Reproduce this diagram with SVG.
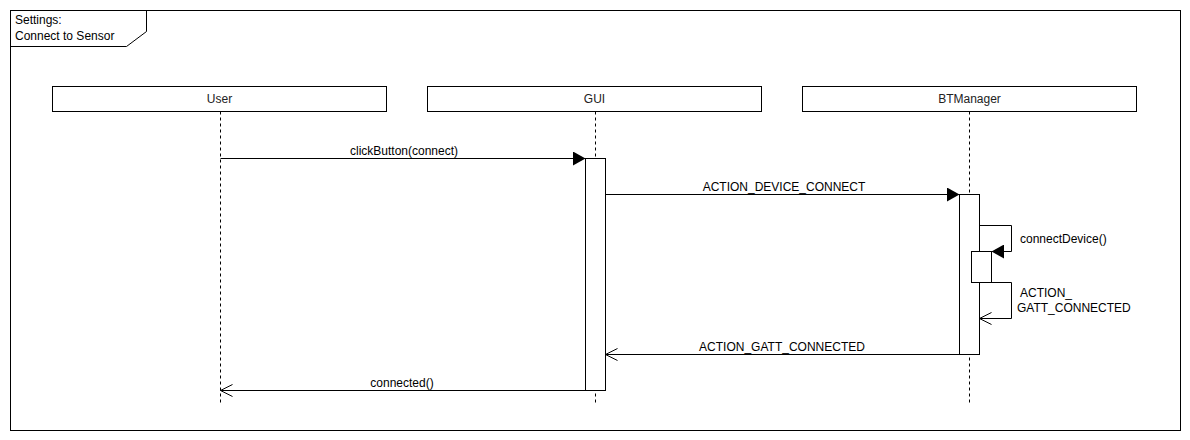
<svg xmlns="http://www.w3.org/2000/svg" width="1190" height="440" viewBox="0 0 1190 440">
<style>
text{font-family:"Liberation Sans",Arial,sans-serif;font-size:12px;fill:#000}
.lbl{fill:#222}
.box{fill:#fff;stroke:#000;stroke-width:1}
.life{stroke:#000;stroke-dasharray:3,3;fill:none}
.msg{stroke:#000;fill:none}
</style>
<defs>
<marker id="filled" viewBox="0 0 13 14" refX="12.5" refY="7" markerWidth="13" markerHeight="14" markerUnits="userSpaceOnUse" orient="auto">
<path d="M0,0 L12.5,7 L0,14 Z" fill="#000"/>
</marker>
<marker id="open" viewBox="0 0 14 14" refX="13" refY="7" markerWidth="14" markerHeight="14" markerUnits="userSpaceOnUse" orient="auto">
<path d="M1,1 L13,7 L1,13" fill="none" stroke="#000"/>
</marker>
</defs>
<rect width="1190" height="440" fill="#fff"/>
<g id="frame">
<rect x="10.5" y="10.5" width="1170" height="420" fill="none" stroke="#000"/>
<path d="M10.5,10.5 H146.5 V31.5 L126.5,46.5 H10.5" fill="none" stroke="#000"/>
<text x="15" y="24">Settings:</text>
<text x="15" y="40">Connect to Sensor</text>
</g>
<g id="user">
<line class="life" x1="220.5" y1="111.5" x2="220.5" y2="405"/>
<rect class="box" x="52.5" y="86.5" width="334" height="25"/>
<text class="lbl" x="219.5" y="103" text-anchor="middle">User</text>
</g>
<g id="gui">
<line class="life" x1="595.5" y1="111.5" x2="595.5" y2="405"/>
<rect class="box" x="427.5" y="86.5" width="334" height="25"/>
<text class="lbl" x="594.5" y="103" text-anchor="middle">GUI</text>
<rect class="box" x="585.5" y="158.5" width="20" height="232"/>
</g>
<g id="btmanager">
<line class="life" x1="969.5" y1="111.5" x2="969.5" y2="405"/>
<rect class="box" x="802.5" y="86.5" width="334" height="25"/>
<text class="lbl" x="969.5" y="103" text-anchor="middle">BTManager</text>
<rect class="box" x="959.5" y="194.5" width="20" height="160"/>
<rect class="box" x="971.5" y="251.5" width="20" height="31"/>
</g>
<g id="connectors">
<line class="msg" x1="220.5" y1="158.5" x2="585.5" y2="158.5" marker-end="url(#filled)"/>
<text x="404" y="155" text-anchor="middle">clickButton(connect)</text>
<line class="msg" x1="605.5" y1="194.5" x2="959.5" y2="194.5" marker-end="url(#filled)"/>
<text x="784" y="191" text-anchor="middle">ACTION_DEVICE_CONNECT</text>
<path class="msg" d="M979.5,225.5 H1011.5 V251.5 H991.5" marker-end="url(#filled)"/>
<text x="1020" y="243">connectDevice()</text>
<path class="msg" d="M991.5,282.5 H1011.5 V318.5 H979.5" marker-end="url(#open)"/>
<text x="1020" y="297">ACTION_</text>
<text x="1017" y="312">GATT_CONNECTED</text>
<line class="msg" x1="959.5" y1="354.5" x2="605.5" y2="354.5" marker-end="url(#open)"/>
<text x="782" y="351" text-anchor="middle">ACTION_GATT_CONNECTED</text>
<line class="msg" x1="585.5" y1="390.5" x2="220.5" y2="390.5" marker-end="url(#open)"/>
<text x="402" y="387" text-anchor="middle">connected()</text>
</g>
</svg>
